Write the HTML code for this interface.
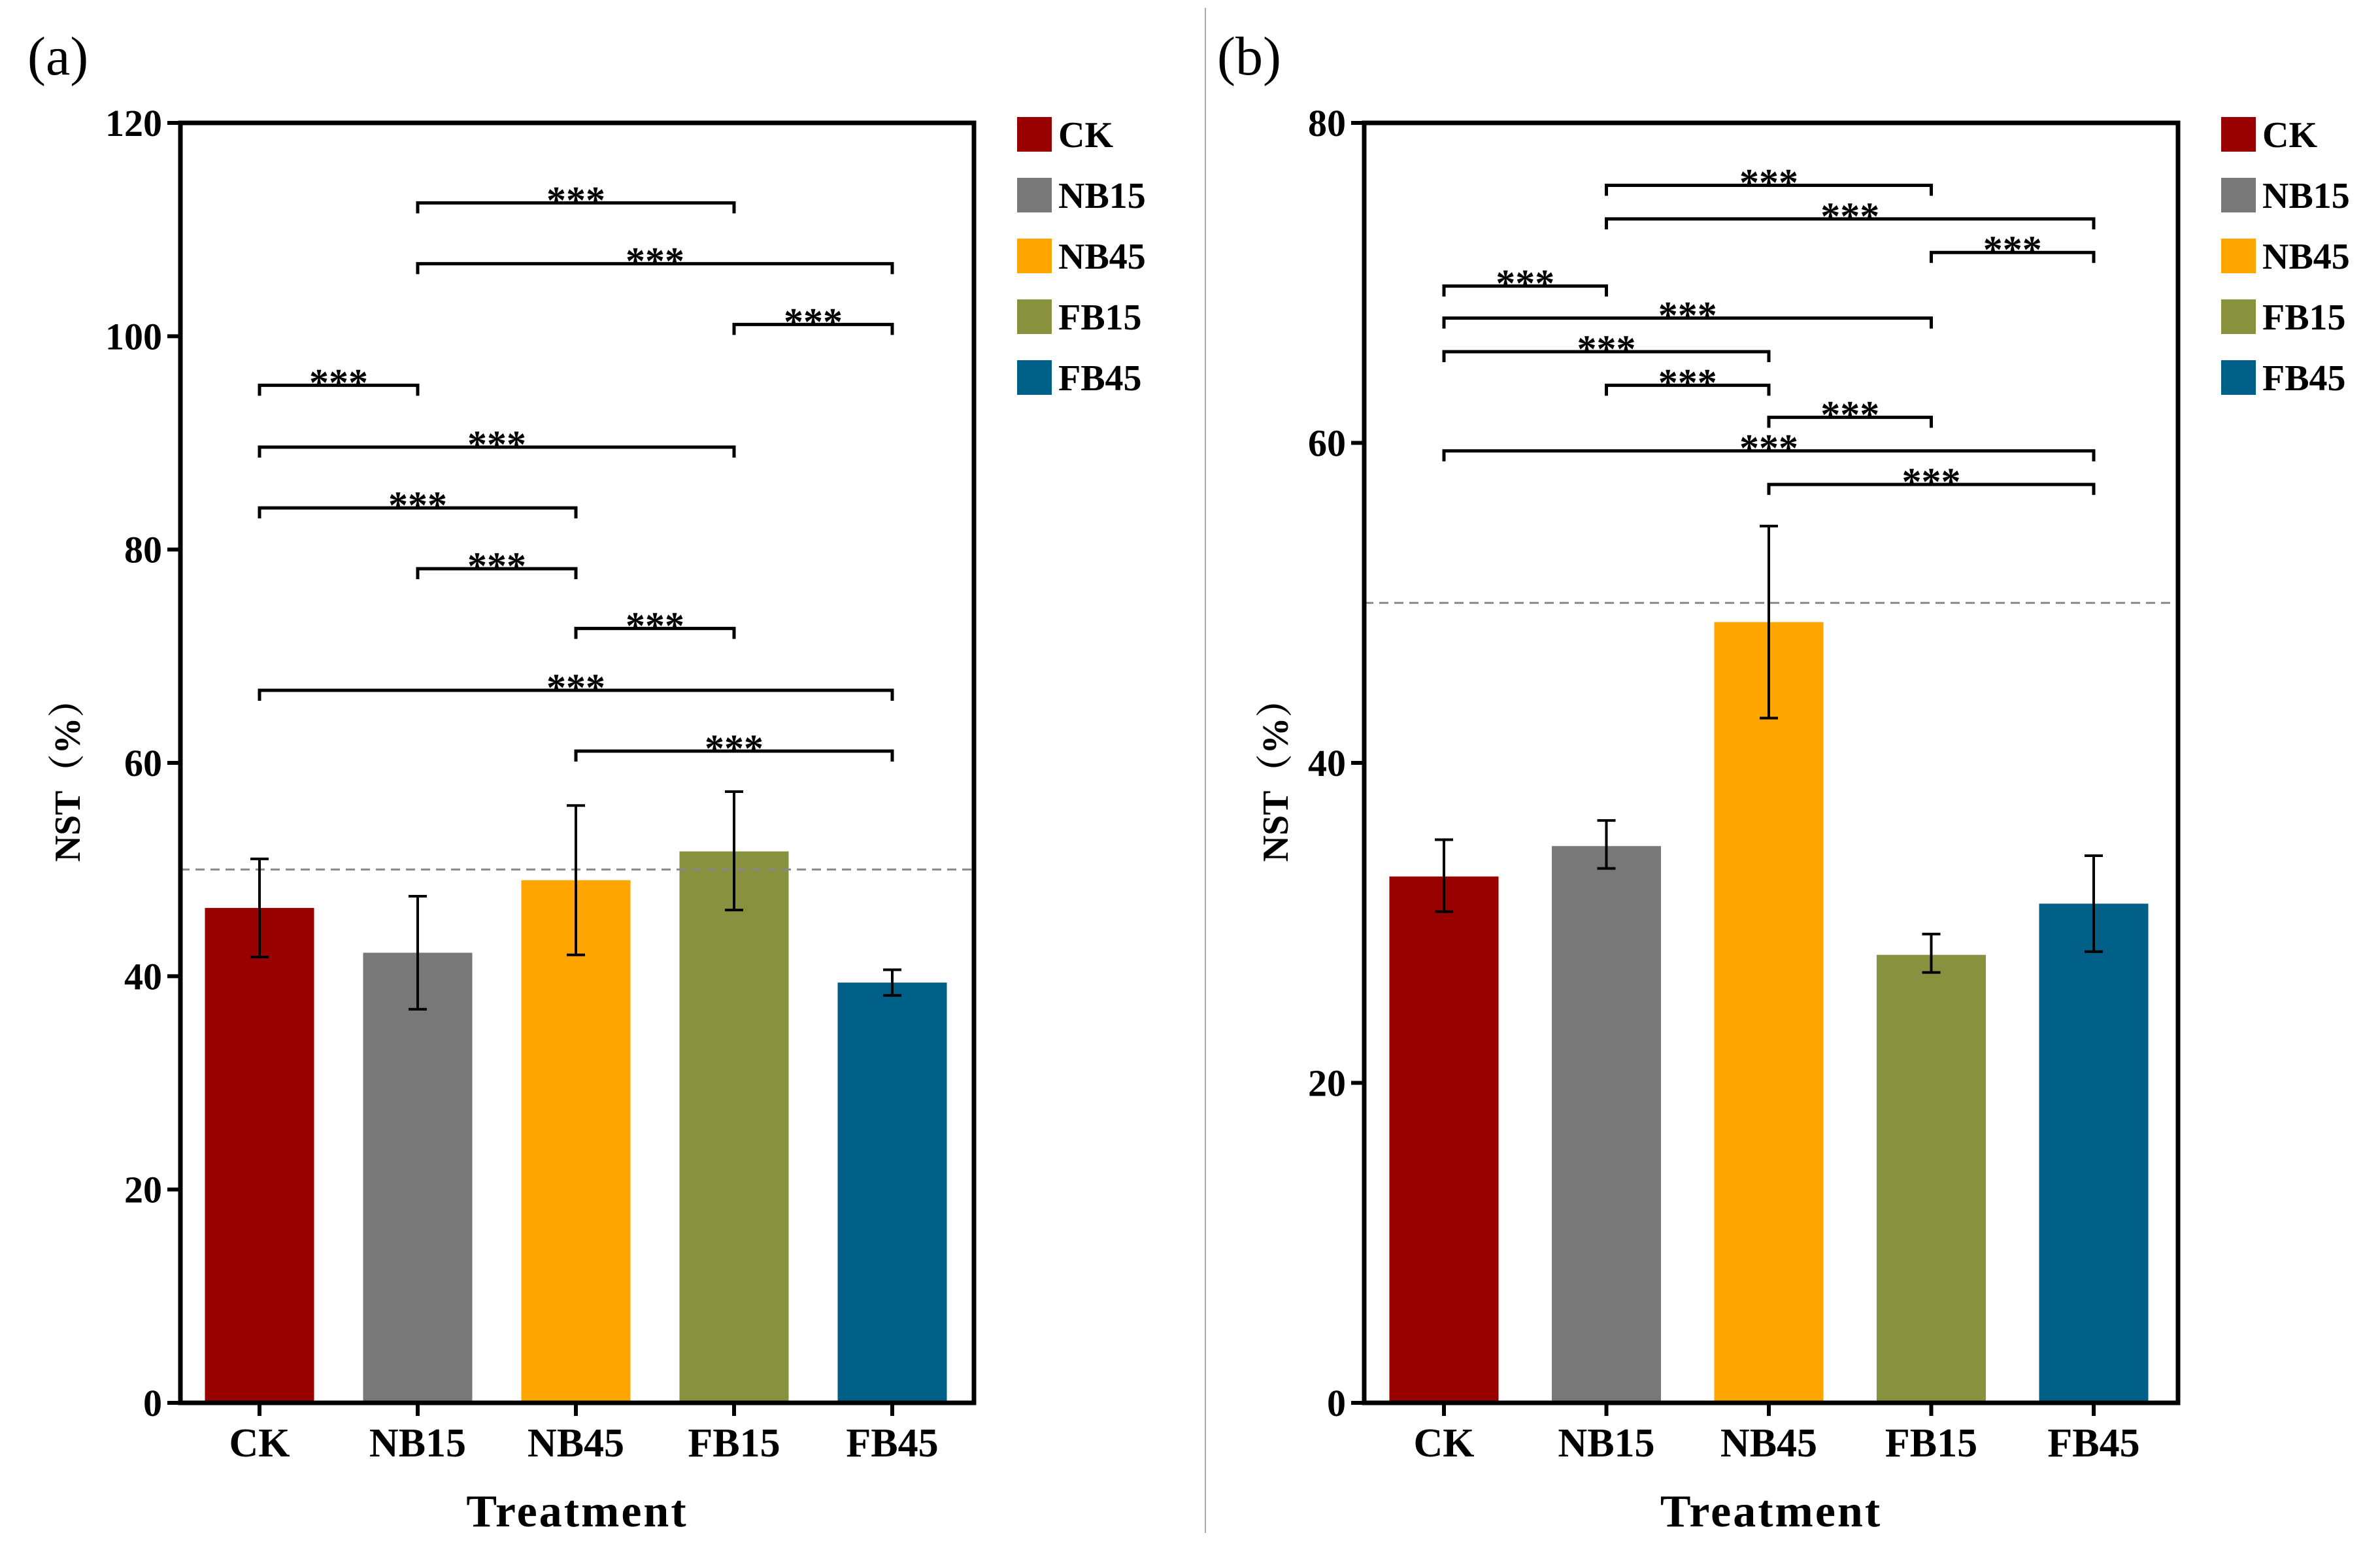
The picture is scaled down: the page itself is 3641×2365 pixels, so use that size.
<!DOCTYPE html>
<html><head><meta charset="utf-8"><style>
html,body{margin:0;padding:0;background:#fff;}
svg{display:block;font-family:"Liberation Serif",serif;}
</style></head><body>
<svg id="chart" width="3641" height="2365" viewBox="0 0 3641 2365" xmlns="http://www.w3.org/2000/svg">
<line x1="1844" y1="12" x2="1844" y2="2345" stroke="#aaa" stroke-width="2"/>
</svg>
<script>
const categories = ["CK","NB15","NB45","FB15","FB45"];
const colors = ["#990000","#787878","#FFA500","#88923E","#005F86"];
const valuesA = [46.4, 42.2, 49.0, 51.7, 39.4];
const errHiA = [51.0, 47.5, 56.0, 57.3, 40.6];
const errLoA = [41.8, 36.9, 42.0, 46.2, 38.2];
const valuesB = [32.9, 34.8, 48.8, 28.0, 31.2];
const errHiB = [35.2, 36.4, 54.8, 29.3, 34.2];
const errLoB = [30.7, 33.4, 42.8, 26.9, 28.2];
const ticksA = [0,20,40,60,80,100,120];
const ticksB = [0,20,40,60,80];
const bracketPairs = [[1,3],[1,4],[3,4],[0,1],[0,3],[0,2],[1,2],[2,3],[0,4],[2,4]];
const bracketYA = [112.5,106.8,101.1,95.4,89.6,83.9,78.2,72.6,66.8,61.1];
const bracketYB = [76.1,74.0,71.9,69.8,67.8,65.7,63.6,61.6,59.5,57.4];
const refLine = 50;

const svg = document.getElementById('chart');
const NS = "http://www.w3.org/2000/svg";
function mk(tag, attrs, parent){
  const e = document.createElementNS(NS, tag);
  for (const k in attrs) e.setAttribute(k, attrs[k]);
  (parent||svg).appendChild(e);
  return e;
}

function panel(cfg){
  const g = mk('g', {});
  
  
  const x0 = cfg.x0, x1 = cfg.x1, yT = 188, yB = 2146;
  const yScale = v => yB - (v / cfg.max) * (yB - yT);
  const xScale = i => cfg.c0 + i * cfg.step;
  const bw = 167;

  const lbl = mk('text', {x: cfg.lx, y: 114, 'font-size': 84}, g);
  lbl.textContent = "(" + cfg.tag + ")";
  
  

  categories.forEach((c, i) => {
    const v = cfg.vals[i];
    const r = mk('rect', {x: xScale(i) - bw/2, y: yScale(v), width: bw, height: yB - yScale(v), fill: colors[i]}, g);
    
    
  });
  const rl = mk('line', {x1: x0, x2: x1, y1: yScale(refLine), y2: yScale(refLine), stroke: '#888', 'stroke-width': 3, 'stroke-dasharray': '14 9'}, g);
  
  
  categories.forEach((c, i) => {
    const eg = mk('g', {stroke: '#000', 'stroke-width': 4}, g);
    
    
    const cx = xScale(i), hi = yScale(cfg.hi[i]), lo = yScale(cfg.lo[i]);
    mk('line', {x1: cx, x2: cx, y1: hi, y2: lo}, eg);
    mk('line', {x1: cx-14, x2: cx+14, y1: hi, y2: hi}, eg);
    mk('line', {x1: cx-14, x2: cx+14, y1: lo, y2: lo}, eg);
  });
  const box = mk('rect', {x: x0, y: yT, width: x1 - x0, height: yB - yT, fill: 'none', stroke: '#000', 'stroke-width': 7}, g);
  
  
  cfg.ticks.forEach(t => {
    const y = yScale(t);
    mk('line', {x1: x0 - 20, x2: x0, y1: y, y2: y, stroke: '#000', 'stroke-width': 6}, g);
    const tx = mk('text', {x: x0 - 28, y: y + 20, 'font-size': 58, 'font-weight': 'bold', 'text-anchor': 'end'}, g);
    tx.textContent = t;
    
    
  });
  categories.forEach((c, i) => {
    const x = xScale(i);
    mk('line', {x1: x, x2: x, y1: yB, y2: yB + 20, stroke: '#000', 'stroke-width': 6}, g);
    const tx = mk('text', {x: x, y: yB + 82, 'font-size': 62, 'font-weight': 'bold', 'text-anchor': 'middle'}, g);
    tx.textContent = c;
    
    
  });
  const xt = mk('text', {x: (x0 + x1)/2, y: 2335, 'font-size': 70, 'font-weight': 'bold', 'text-anchor': 'middle', 'letter-spacing': 3}, g);
  xt.textContent = "Treatment";
  
  
  const yt = mk('text', {x: 0, y: 0, 'font-size': 56, 'font-weight': 'bold', 'text-anchor': 'middle', transform: 'translate(' + cfg.ytx + ',1180) rotate(-90)'}, g);
  yt.style.fontFamily = '"Liberation Serif","Noto Serif CJK SC",serif';
  yt.textContent = "NST（%）";
  
  
  bracketPairs.forEach((p, k) => {
    const bg = mk('g', {}, g);
    
    
    const xa = xScale(p[0]), xb = xScale(p[1]), y = yScale(cfg.br[k]);
    mk('path', {d: 'M' + xa + ' ' + (y + 16) + 'V' + y + 'H' + xb + 'V' + (y + 16), fill: 'none', stroke: '#000', 'stroke-width': 5}, bg);
    const st = mk('text', {x: (xa + xb)/2, y: y + 16, 'font-size': 60, 'font-weight': 'bold', 'text-anchor': 'middle'}, bg);
    st.textContent = "***";
  });
  categories.forEach((c, i) => {
    const lg = mk('g', {}, g);
    
    
    const y = 179 + i * 93;
    mk('rect', {x: cfg.legX, y: y, width: 53, height: 53, fill: colors[i]}, lg);
    const t = mk('text', {x: cfg.legX + 63, y: y + 46, 'font-size': 56, 'font-weight': 'bold'}, lg);
    t.textContent = c;
  });
}

panel({tag: 'a', x0: 276, x1: 1490, max: 120, c0: 397, step: 242, vals: valuesA, hi: errHiA, lo: errLoA, ticks: ticksA, br: bracketYA, legX: 1556, lx: 42, ytx: 122});
panel({tag: 'b', x0: 2087, x1: 3332, max: 80, c0: 2209, step: 248.5, vals: valuesB, hi: errHiB, lo: errLoB, ticks: ticksB, br: bracketYB, legX: 3398, lx: 1862, ytx: 1970});
</script>
</body></html>
